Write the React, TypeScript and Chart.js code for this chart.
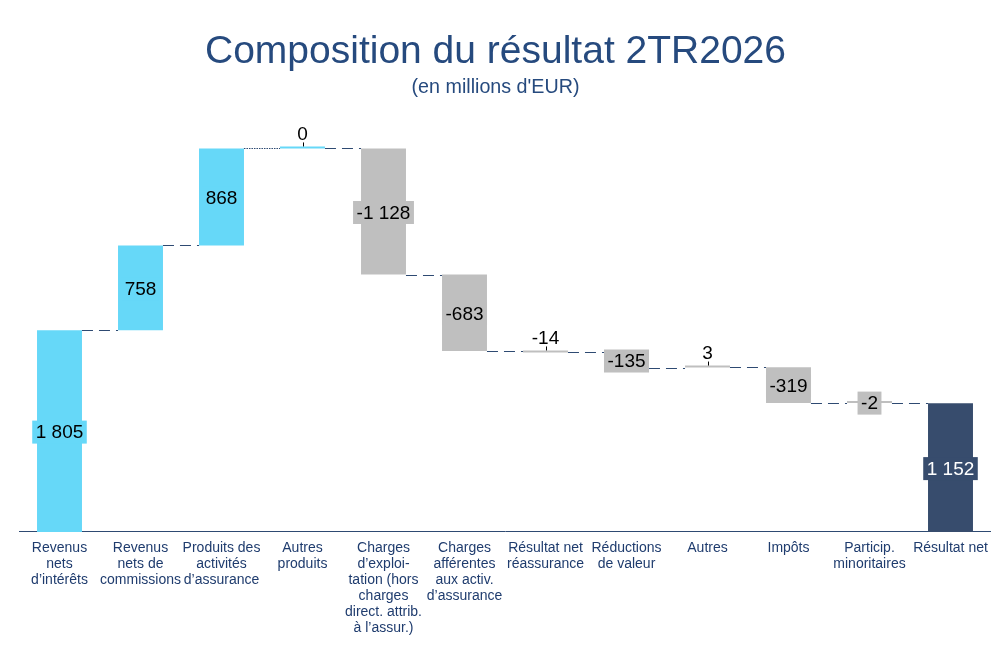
import React, { useEffect, useRef } from "react";
import { Chart, registerables } from "chart.js";

Chart.register(...registerables);

const titleText = "Composition du résultat 2TR2026";
const subtitleText = "(en millions d'EUR)";

const categories: string[][] = [
  ["Revenus", "nets", "d’intérêts"],
  ["Revenus", "nets de", "commissions"],
  ["Produits des", "activités", "d’assurance"],
  ["Autres", "produits"],
  ["Charges", "d’exploi-", "tation (hors", "charges", "direct. attrib.", "à l’assur.)"],
  ["Charges", "afférentes", "aux activ.", "d’assurance"],
  ["Résultat net", "réassurance"],
  ["Réductions", "de valeur"],
  ["Autres"],
  ["Impôts"],
  ["Particip.", "minoritaires"],
  ["Résultat net"],
];

const values: number[] = [1805, 758, 868, 0, -1128, -683, -14, -135, 3, -319, -2, 1152];
const barKinds: string[] = ["inc", "inc", "inc", "inc", "dec", "dec", "dec", "dec", "dec", "dec", "dec", "total"];
const labelAbove: boolean[] = [false, false, false, true, false, false, true, false, true, false, false, false];

const kindColors: Record<string, string> = {
  inc: "#66D8F8",
  dec: "#BFBFBF",
  total: "#374C6D",
};
const kindText: Record<string, string> = {
  inc: "#000000",
  dec: "#000000",
  total: "#FFFFFF",
};

function fmt(v: number): string {
  const s = Math.abs(v).toString();
  const withSep = s.replace(/\B(?=(\d{3})+(?!\d))/g, " ");
  return (v < 0 ? "-" : "") + withSep;
}

// floating ranges computed from values
const ranges: [number, number][] = [];
const ends: number[] = [];
{
  let cum = 0;
  values.forEach((v, i) => {
    if (barKinds[i] === "total") {
      ranges.push([0, v]);
      ends.push(v);
    } else {
      ranges.push([cum, cum + v]);
      cum += v;
      ends.push(cum);
    }
  });
}

const waterfallPlugin = {
  id: "waterfallDecor",
  afterDatasetsDraw(chart: any) {
    const ctx = chart.ctx;
    const meta = chart.getDatasetMeta(0);
    const y = chart.scales.y;
    const els = meta.data;
    ctx.save();
    // connectors
    for (let i = 0; i < els.length - 1; i++) {
      const a = els[i];
      const b = els[i + 1];
      const py = Math.round(y.getPixelForValue(ends[i])) + 0.5;
      ctx.beginPath();
      ctx.strokeStyle = "#2E4A72";
      ctx.lineWidth = 1;
      ctx.setLineDash(i === 2 ? [1.5, 1] : [11, 6]);
      ctx.moveTo(a.x + a.width / 2, py);
      ctx.lineTo(b.x - b.width / 2, py);
      ctx.stroke();
    }
    ctx.setLineDash([]);
    // labels
    ctx.font = "19px Arial, 'Liberation Sans', sans-serif";
    ctx.textAlign = "center";
    ctx.textBaseline = "middle";
    els.forEach((el: any, i: number) => {
      const txt = fmt(values[i]);
      const top = Math.min(el.y, el.base);
      const bottom = Math.max(el.y, el.base);
      if (labelAbove[i]) {
        ctx.beginPath();
        ctx.strokeStyle = "#000";
        ctx.lineWidth = 1;
        ctx.moveTo(Math.round(el.x) + 0.5, top - 4);
        ctx.lineTo(Math.round(el.x) + 0.5, top);
        ctx.stroke();
        ctx.fillStyle = "#000";
        ctx.fillText(txt, el.x, top - 12);
      } else {
        const cy = (top + bottom) / 2 + 1;
        const tw = ctx.measureText(txt).width;
        const bw = tw + 7;
        const bh = 23;
        ctx.fillStyle = kindColors[barKinds[i]];
        ctx.fillRect(el.x - bw / 2, cy - bh / 2, bw, bh);
        ctx.fillStyle = kindText[barKinds[i]];
        ctx.fillText(txt, el.x, cy + 1);
      }
    });
    ctx.restore();
  },
};

export default function App() {
  const ref = useRef<HTMLCanvasElement | null>(null);
  useEffect(() => {
    document.body.style.margin = "0";
    const canvas = ref.current;
    if (!canvas) return;
    const chart = new Chart(canvas, {
      type: "bar",
      data: {
        labels: categories,
        datasets: [
          {
            data: ranges as any,
            backgroundColor: barKinds.map((k) => kindColors[k]),
            borderWidth: 0,
            barPercentage: 0.555,
            categoryPercentage: 1,
            minBarLength: 2,
          },
        ],
      },
      options: {
        animation: false,
        responsive: false,
        maintainAspectRatio: false,
        layout: { padding: { left: 0, right: 0, top: 0, bottom: 8 } },
        plugins: {
          legend: { display: false },
          tooltip: { enabled: false },
          title: {
            display: true,
            text: titleText,
            color: "#264A7E",
            font: { family: "Arial, 'Liberation Sans', sans-serif", size: 39, weight: "normal" },
            padding: { top: 29, bottom: 0 },
          },
          subtitle: {
            display: true,
            text: subtitleText,
            color: "#264A7E",
            font: { family: "Arial, 'Liberation Sans', sans-serif", size: 19.7, weight: "normal" },
            padding: { top: 0, bottom: 10 },
          },
        },
        scales: {
          x: {
            grid: { display: false, drawTicks: false },
            border: { display: true, color: "#2E4A72", width: 1 },
            ticks: {
              autoSkip: false,
              maxRotation: 0,
              minRotation: 0,
              padding: 8,
              color: "#1F3C6E",
              font: { family: "Arial, 'Liberation Sans', sans-serif", size: 14, lineHeight: 1.143 },
            },
            afterFit: (scale: any) => {
              scale.paddingLeft = 0;
              scale.paddingRight = 0;
            },
          },
          y: {
            display: true,
            min: 0,
            max: 3780,
            grid: { display: false, drawTicks: false },
            border: { display: false },
            ticks: { display: false },
            afterFit: (scale: any) => {
              scale.width = 19;
            },
          },
        },
      },
      plugins: [waterfallPlugin],
    });
    return () => chart.destroy();
  }, []);
  return (
    <div style={{ width: 991, height: 652 }}>
      <canvas ref={ref} width={991} height={652} style={{ width: 991, height: 652, display: "block" }} />
    </div>
  );
}
